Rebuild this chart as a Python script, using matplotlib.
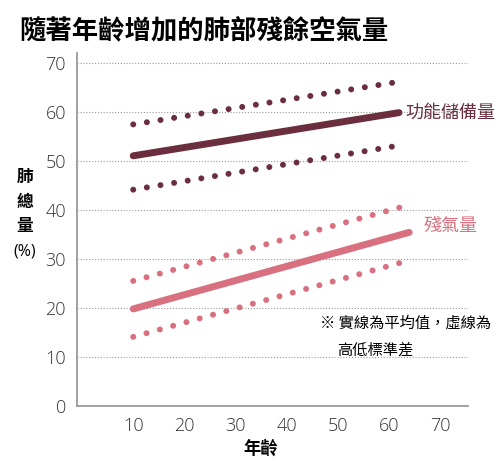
import matplotlib.pyplot as plt

plt.rcParams['font.family'] = ['Noto Sans CJK TC', 'DejaVu Sans']

# age range of each line
age_reserve = [10, 62]
age_residual = [10, 64]

# 功能儲備量 (mean and +/- std)
reserve_mean = [51, 59.8]
reserve_high = [57.4, 66.1]
reserve_low = [44.1, 53.1]

# 殘氣量 (mean and +/- std)
residual_mean = [19.8, 35.4]
residual_high = [25.5, 41.0]
residual_low = [14.1, 29.7]

x_ticks = [10, 20, 30, 40, 50, 60, 70]
y_ticks = [0, 10, 20, 30, 40, 50, 60, 70]

dark = '#6b2e3e'
pink = '#d9707f'

fig = plt.figure(figsize=(5, 4.63), dpi=100)
ax = fig.add_axes([0.154, 0.123, 0.782, 0.763])

# grid lines
for y in y_ticks[1:]:
    ax.axhline(y, color='#9a9a9a', lw=0.8, ls=(0, (1, 1.6)), zorder=1)

dots = (0, (0.01, 2.3))
ax.plot(age_reserve, reserve_mean, color=dark, lw=5, solid_capstyle='round', zorder=3)
ax.plot(age_reserve, reserve_high, color=dark, lw=4.3, ls=dots, dash_capstyle='round', zorder=3)
ax.plot(age_reserve, reserve_low, color=dark, lw=4.3, ls=dots, dash_capstyle='round', zorder=3)

ax.plot(age_residual, residual_mean, color=pink, lw=5, solid_capstyle='round', zorder=3)
ax.plot(age_residual, residual_high, color=pink, lw=4.3, ls=dots, dash_capstyle='round', zorder=3)
ax.plot(age_residual, residual_low, color=pink, lw=4.3, ls=dots, dash_capstyle='round', zorder=3)

ax.text(age_reserve[1] + 1.2, reserve_mean[1], '功能儲備量', color=dark,
        fontsize=13, va='center', ha='left')
ax.text(age_residual[1] + 2.8, residual_mean[1] + 1.3, '殘氣量', color=pink,
        fontsize=13, va='center', ha='left')

ax.text(46.5, 17.0, '※ 實線為平均值，虛線為', fontsize=11, va='center', ha='left')
ax.text(49.8, 11.5, '高低標準差', fontsize=11, va='center', ha='left')

ax.set_xlim(-1, 75.5)
ax.set_ylim(0, 72)
ax.set_xticks(x_ticks)
ax.set_yticks(y_ticks)
ax.tick_params(length=0, labelsize=13, colors='#333333', pad=8)
for lab in ax.get_xticklabels() + ax.get_yticklabels():
    lab.set_family(['Open Sans', 'DejaVu Sans'])
    lab.set_fontweight('light')

for side in ['top', 'right']:
    ax.spines[side].set_visible(False)
for side in ['left', 'bottom']:
    ax.spines[side].set_color('#9a9a9a')
    ax.spines[side].set_linewidth(1.3)

ax.set_xlabel('年齡', fontsize=12.5, fontweight='bold')
ax.xaxis.set_label_coords(0.47, -0.095)

# vertical y label
fig.text(0.05, 0.618, '肺', fontsize=12, fontweight='bold', ha='center', va='center')
fig.text(0.05, 0.564, '總', fontsize=12, fontweight='bold', ha='center', va='center')
fig.text(0.05, 0.512, '量', fontsize=12, fontweight='bold', ha='center', va='center')
fig.text(0.05, 0.456, '(%)', fontsize=11.5, ha='center', va='center',
         family=['Open Sans', 'DejaVu Sans'])

fig.text(0.038, 0.931, '隨著年齡增加的肺部殘餘空氣量', fontsize=19,
         fontweight='bold', ha='left', va='center')

fig.savefig('out.png', dpi=100, facecolor='white')
